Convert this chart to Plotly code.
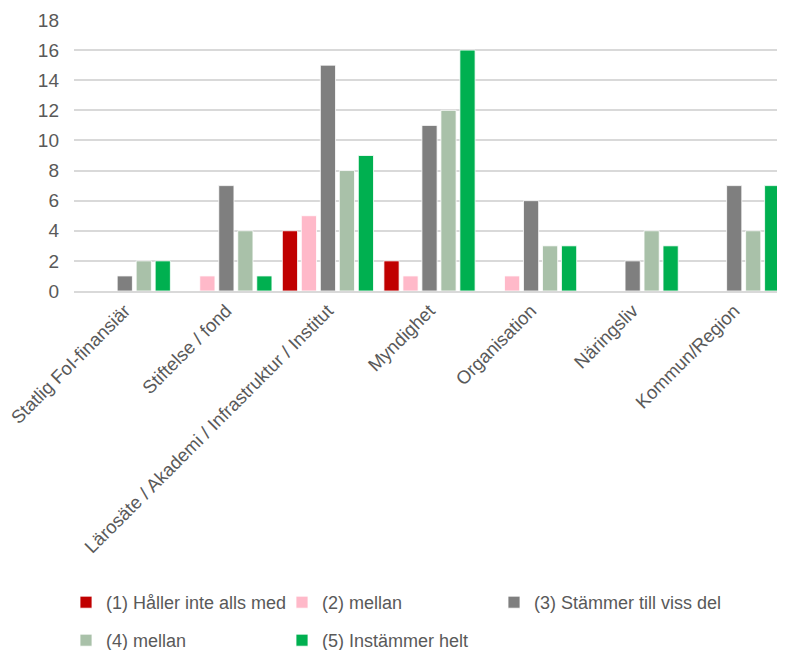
import plotly.graph_objects as go

categories = ["Statlig FoI-finansiär", "Stiftelse / fond",
              "Lärosäte / Akademi / Infrastruktur / Institut", "Myndighet",
              "Organisation", "Näringsliv", "Kommun/Region"]
series_names = ["(1) Håller inte alls med", "(2) mellan", "(3) Stämmer till viss del",
                "(4) mellan", "(5) Instämmer helt"]
s1 = [0, 0, 4, 2, 0, 0, 0]
s2 = [0, 1, 5, 1, 1, 0, 0]
s3 = [1, 7, 15, 11, 6, 2, 7]
s4 = [2, 4, 8, 12, 3, 4, 4]
s5 = [2, 1, 9, 16, 3, 3, 7]
colors = ["#C00000", "#FFB9C9", "#7F7F7F", "#A9C1A9", "#00B050"]
legend_rows = ["legend", "legend", "legend3", "legend2", "legend2"]

FONT = "Liberation Sans"
W, H = 777, 642  # page body has an 8px margin
fig = go.Figure()
for name, vals, c, lg in zip(series_names, [s1, s2, s3, s4, s5], colors, legend_rows):
    fig.add_trace(go.Bar(x=categories, y=vals, name=name, legend=lg,
                         marker=dict(color=c, line=dict(color="white", width=0.8))))

leg_common = dict(orientation="h", xref="container", yref="container",
                  xanchor="left", yanchor="top", itemwidth=30,
                  font=dict(size=18, color="#595959", family=FONT),
                  bgcolor="rgba(0,0,0,0)", traceorder="normal")

fig.update_layout(
    width=W, height=H,
    paper_bgcolor="white", plot_bgcolor="white",
    margin=dict(l=66, r=0, t=12, b=359),
    barmode="group", bargap=0.065, bargroupgap=0.2,
    font=dict(family=FONT, color="#595959", size=19),
    xaxis=dict(tickangle=-45, tickfont=dict(size=18.5, color="#595959"),
               showline=True, linecolor="#D9D9D9", linewidth=1.5, ticks="",
               automargin=False),
    yaxis=dict(range=[0, 18], dtick=2, showgrid=True, gridcolor="#D9D9D9", gridwidth=1.5,
               zeroline=False, tickfont=dict(size=19, color="#595959"),
               ticklabelstandoff=14, automargin=False),
    legend=dict(**leg_common, x=58/W, y=1 - 576/H, entrywidth=171, entrywidthmode="pixels"),
    legend2=dict(**leg_common, x=58/W, y=1 - 614/H, entrywidth=171, entrywidthmode="pixels"),
    legend3=dict(**leg_common, x=486/W, y=1 - 576/H),
    showlegend=True,
)
fig.write_html("out.html")
